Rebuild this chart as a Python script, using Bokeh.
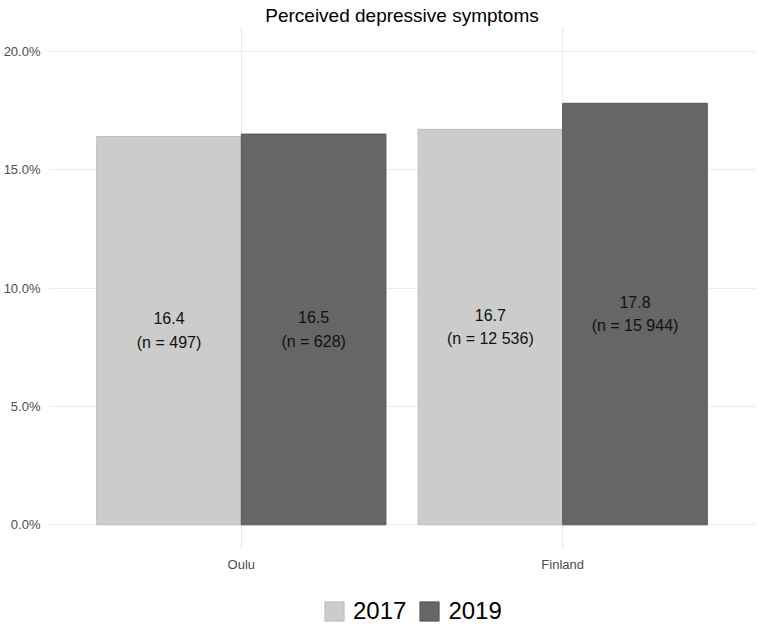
from bokeh.plotting import figure
from bokeh.layouts import column
from bokeh.models import (ColumnDataSource, FactorRange, Range1d, FixedTicker,
                          PrintfTickFormatter, Legend, LegendItem)
from bokeh.transform import dodge
from bokeh.core.properties import value
from bokeh.embed import file_html
from bokeh.resources import INLINE

# ---- data ----
regions = ["Oulu", "Finland"]
years = ["2017", "2019"]
pct_2017 = [16.4, 16.7]
pct_2019 = [16.5, 17.8]
n_2017 = ["497", "12 536"]
n_2019 = ["628", "15 944"]
y_ticks = [0, 5, 10, 15, 20]

FONT = "Liberation Sans"
C2017 = "#cccccc"
C2019 = "#666666"
L2017 = "#bdbdbd"
L2019 = "#575757"


def make_source(vals, ns):
    return ColumnDataSource(dict(
        region=regions,
        val=vals,
        mid=[v / 2 for v in vals],
        label=[f"{v:.1f}\n(n = {n})" for v, n in zip(vals, ns)],
    ))


s17 = make_source(pct_2017, n_2017)
s19 = make_source(pct_2019, n_2019)

p = figure(
    frame_width=707, frame_height=521,
    x_range=FactorRange(*regions, range_padding=0.1, range_padding_units="percent"),
    y_range=Range1d(-1.0, 21.0),
    output_backend="svg", toolbar_location=None,
    min_border_left=41, min_border_right=1, min_border_top=0, min_border_bottom=0,
)
p.outline_line_color = None
p.background_fill_color = "white"
p.border_fill_color = "white"

p.title.text = "Perceived depressive symptoms"
p.title.align = "center"
p.title.text_font = FONT
p.title.text_font_size = "19px"
p.title.text_font_style = "normal"
p.title.text_color = "#000000"
p.title.standoff = 4

p.vbar(x=dodge("region", -0.225, range=p.x_range), top="val", bottom=0,
       width=0.45, source=s17, fill_color=C2017, line_color=L2017, line_width=1)
p.vbar(x=dodge("region", 0.225, range=p.x_range), top="val", bottom=0,
       width=0.45, source=s19, fill_color=C2019, line_color=L2019, line_width=1)

for src, off in ((s17, -0.225), (s19, 0.225)):
    p.text(x=dodge("region", off, range=p.x_range), y="mid", text="label", source=src,
           text_align="center", text_baseline="middle", text_font=value(FONT),
           text_font_size="16px", text_color="#111111", text_line_height=1.4)

# axes
p.yaxis.ticker = FixedTicker(ticks=y_ticks)
p.yaxis.formatter = PrintfTickFormatter(format="%.1f%%")
for ax in (p.xaxis[0], p.yaxis[0]):
    ax.axis_line_color = None
    ax.major_tick_line_color = None
    ax.minor_tick_line_color = None
    ax.major_tick_out = 0
    ax.major_tick_in = 0
    ax.major_label_text_font = FONT
    ax.major_label_text_font_size = "13px"
    ax.major_label_text_color = "#4d4d4d"
    ax.major_label_standoff = 8

p.xgrid.grid_line_color = "#ebebeb"
p.ygrid.grid_line_color = "#ebebeb"
p.xgrid.grid_line_width = 1.2
p.ygrid.grid_line_width = 1.2

# ---- legend strip (separate small figure below the plot) ----
lg = figure(
    width=749, height=52,
    x_range=Range1d(0, 1), y_range=Range1d(0, 1),
    output_backend="svg", toolbar_location=None,
    min_border_left=0, min_border_right=0, min_border_top=0, min_border_bottom=0,
)
lg.axis.visible = False
lg.grid.visible = False
lg.outline_line_color = None
lg.border_fill_color = "white"
# key swatches only: one off-screen point each so that the legend draws its glyph
key_src = ColumnDataSource(dict(x=[-10.0], top=[0.0]))
k17 = lg.vbar(x="x", top="top", width=0.1, source=key_src,
              fill_color=C2017, line_color=L2017, line_width=1)
k19 = lg.vbar(x="x", top="top", width=0.1, source=key_src,
              fill_color=C2019, line_color=L2019, line_width=1)

legend = Legend(
    items=[LegendItem(label=years[0], renderers=[k17], index=0),
           LegendItem(label=years[1], renderers=[k19], index=0)],
    orientation="horizontal", location=(274, 1),
    glyph_width=24, glyph_height=24, label_standoff=7, spacing=11,
    label_text_font=FONT, label_text_font_size="24px", label_text_color="#000000",
    border_line_color=None, background_fill_alpha=0, padding=4, margin=0,
)
lg.add_layout(legend, "center")

layout = column(p, lg, spacing=0)
open("out.html", "w").write(file_html(layout, INLINE))
